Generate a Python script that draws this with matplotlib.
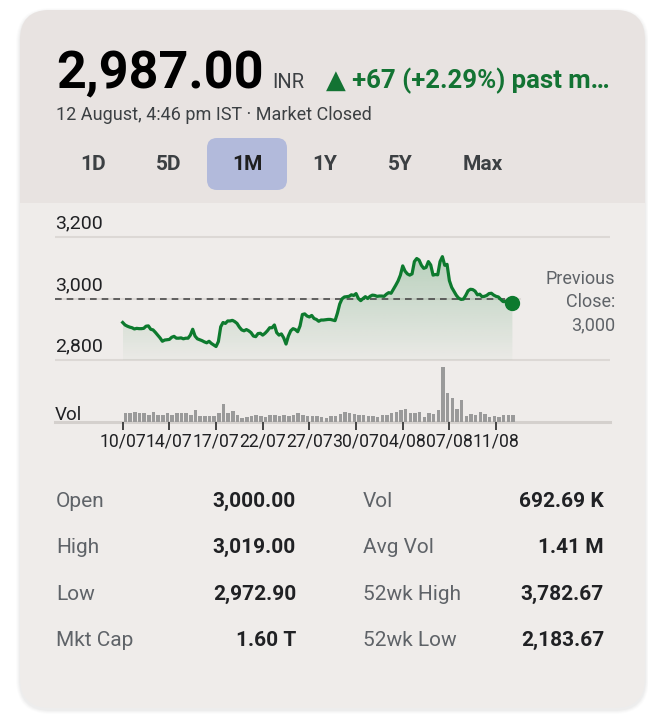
import numpy as np
import matplotlib.pyplot as plt
from matplotlib.patches import FancyBboxPatch, Rectangle
from matplotlib.colors import to_rgb

plt.rcParams['font.family'] = ['Roboto', 'DejaVu Sans']

# ---- data ----
price = [2922, 2914, 2910, 2907, 2905, 2901, 2903, 2902, 2902, 2903,
         2910, 2911, 2900, 2898, 2890, 2881, 2872, 2861, 2865, 2866,
         2867, 2874, 2877, 2871, 2871, 2872, 2869, 2871, 2871, 2881,
         2900, 2878, 2869, 2866, 2863, 2859, 2856, 2861, 2854, 2849,
         2844, 2860, 2908, 2922,
         2919, 2927, 2927, 2929, 2925, 2919, 2907, 2898, 2895, 2899,
         2895, 2889, 2878, 2876, 2886, 2887, 2881, 2887, 2895, 2905,
         2905, 2914, 2889, 2881, 2885, 2872, 2852, 2878, 2895, 2902,
         2899, 2892, 2911, 2948, 2950, 2943, 2940, 2945, 2935, 2932,
         2926, 2930, 2930,
         2931, 2932, 2932, 2930, 2928, 2952,
         2982, 2999, 3005, 3006, 3007, 3012, 3010, 3016, 3000, 2993,
         3000, 3006, 3000, 3007, 3011, 3010, 3007, 3008, 3008, 3007,
         3014, 3019, 3017, 3030, 3043, 3057, 3076, 3106, 3089, 3080,
         3076, 3080, 3120,
         3130, 3125, 3108, 3098, 3101, 3120, 3109, 3076, 3078, 3077,
         3120, 3136, 3108, 3111, 3058, 3036, 3023, 3010, 3001, 2997,
         2998, 3010, 3025, 3030, 3029, 3024, 3012, 3014, 3006, 3007,
         3010, 3016, 3017, 3011, 3007, 3005, 2997, 2990, 2990, 2995,
         2990, 2987]

volume = [25, 25, 28, 25, 25, 20, 27, 18, 18, 25,
          18, 24, 24, 26, 18, 35, 16, 16, 17, 16,
          24, 52, 25, 32, 18, 11, 14, 17, 20, 17,
          13, 19, 19, 16, 19, 17, 19, 24, 19, 15,
          16, 16, 14, 11, 16, 16, 23, 28, 26, 22,
          20, 20, 17, 16, 14, 18, 19, 25, 28, 34,
          38, 25, 24, 28, 14, 25, 23, 33, 164, 85,
          70, 38, 64, 17, 22, 20, 29, 22, 14, 16,
          12, 19, 18, 18]

date_labels = ['10/07', '14/07', '17/07', '22/07', '27/07',
               '30/07', '04/08', '07/08', '11/08']
price_ticks = [2800, 3000, 3200]
prev_close = 3000

last_price = '2,987.00'
currency = 'INR'
change_text = '\u25B2 +67 (+2.29%) past m\u2026'
timestamp = '12 August, 4:46 pm IST \u00B7 Market Closed'
tabs = ['1D', '5D', '1M', '1Y', '5Y', 'Max']
active_tab = '1M'

stat_names_l = ['Open', 'High', 'Low', 'Mkt Cap']
stat_vals_l = ['3,000.00', '3,019.00', '2,972.90', '1.60 T']
stat_names_r = ['Vol', 'Avg Vol', '52wk High', '52wk Low']
stat_vals_r = ['692.69 K', '1.41 M', '3,782.67', '2,183.67']

# ---- colours ----
green = '#0d7a2e'
green_txt = '#137333'
card_bg = '#efecea'
head_bg = '#e8e3e1'
grid_c = '#dcd8d5'
dark = '#202124'
grey = '#5f6368'

W, H = 648, 725
fig = plt.figure(figsize=(W / 100, H / 100), dpi=100)
fig.patch.set_facecolor('white')

bg = fig.add_axes([0, 0, 1, 1])
bg.set_xlim(0, W)
bg.set_ylim(H, 0)
bg.axis('off')

# card with soft shadow
for i, a in enumerate([0.025, 0.02, 0.015, 0.01]):
    d = i + 1
    bg.add_patch(FancyBboxPatch((20 - d, 10 - d + 2), 625 + 2 * d, 698 + 2 * d,
                                boxstyle='round,pad=0,rounding_size=%d' % (30 + d),
                                fc='black', ec='none', alpha=a))
card = FancyBboxPatch((20, 10), 625, 698, boxstyle='round,pad=0,rounding_size=30',
                      fc=card_bg, ec='none')
bg.add_patch(card)
head = Rectangle((20, 10), 625, 193, fc=head_bg, ec='none')
bg.add_patch(head)
head.set_clip_path(card)

# header texts
bg.text(56, 88, last_price, fontsize=37.5, fontweight='bold', color='black', va='baseline')
bg.text(272, 88, currency, fontsize=14.5, color='#3c4043', va='baseline')
bg.text(326, 88, change_text, fontsize=18.5, fontweight='bold', color=green_txt, va='baseline')
bg.text(56, 120, timestamp, fontsize=13, color='#3c4043', va='baseline')

tab_x = [93, 169, 247, 325, 400, 483]
for t, x in zip(tabs, tab_x):
    if t == active_tab:
        bg.add_patch(FancyBboxPatch((x - 40, 138), 80, 52,
                                    boxstyle='round,pad=0,rounding_size=10',
                                    fc='#b2badb', ec='none'))
    bg.text(x, 164, t, fontsize=15, fontweight='bold', ha='center', va='center',
            color='#1f1f1f' if t == active_tab else '#3c4043')

# ---- price chart ----
x0px, step = 122.7, 4.667          # px of first sample, px per volume bar
left_px, right_px = 55, 610
xlim = ((left_px - x0px) / step, (right_px - x0px) / step)
ppx = 3.25                          # price units per pixel
ylim = (prev_close - (362 - 298.5) * ppx, prev_close + (298.5 - 230) * ppx)
dash_end = (520 - left_px) / (right_px - left_px)

ax = fig.add_axes([left_px / W, 1 - 362 / H, (right_px - left_px) / W, 132 / H])
ax.patch.set_alpha(0)
xs = np.arange(len(price)) / 2.0
p = np.array(price)

for t in price_ticks:
    ax.axhline(t, color=grid_c, lw=1.5, zorder=0,
               xmax=dash_end if t == prev_close else 1)
    ax.annotate(f'{t:,}', xy=(0, t), xycoords=('axes fraction', 'data'),
                xytext=(0, 6), textcoords='offset points', ha='left', va='baseline',
                fontsize=14, color=dark)

ax.axhline(prev_close, xmin=0, xmax=dash_end,
           color='#4a4a4a', lw=1.2, ls=(0, (4, 3)), zorder=2)

# gradient fill under the line
poly = ax.fill_between(xs, p, price_ticks[0], color='none', lw=0)
grad = np.zeros((256, 1, 4))
grad[:, 0, :3] = to_rgb(green)
grad[:, 0, 3] = np.linspace(0.02, 0.24, 256)
im = ax.imshow(grad, extent=[xs[0], xs[-1], price_ticks[0], p.max()],
               origin='lower', aspect='auto', zorder=1, interpolation='bilinear')
im.set_clip_path(poly.get_paths()[0], transform=ax.transData)

ax.plot(xs, p, color=green, lw=2.3, solid_joinstyle='round', zorder=3)
ax.plot(xs[-1], p[-1], 'o', ms=10, color=green, zorder=4)
ax.set_xlim(*xlim)
ax.set_ylim(*ylim)
ax.axis('off')

bg.text(615, 302, f'Previous\nClose:\n{prev_close:,}', ha='right', va='center',
        fontsize=13, color=grey, linespacing=1.35)

# ---- volume ----
vpx = 164 / 54.7
axv = fig.add_axes([left_px / W, 1 - 421.5 / H, (right_px - left_px) / W, 61.5 / H])
axv.patch.set_alpha(0)
axv.bar(np.arange(len(volume)) + 0.6, volume, width=0.72, color='#9a9a9a', zorder=2)
axv.axhline(0, color='#d4d0cd', lw=2.2, clip_on=False, zorder=1)
axv.set_xlim(*xlim)
axv.set_ylim(0, 61.5 * vpx)
axv.set_xticks(np.arange(0, 10 * len(date_labels), 10), labels=date_labels)
axv.tick_params(axis='x', length=6, width=1.4, color='#444', pad=2,
                labelsize=12.7, labelcolor=dark)
axv.set_yticks([])
for s in axv.spines.values():
    s.set_visible(False)
axv.text(0, 4, 'Vol', transform=axv.get_yaxis_transform(), fontsize=13.5,
         color=dark, va='baseline', ha='left')

# ---- stats table ----
row_y = [507, 553, 600, 646]
for y, n1, v1, n2, v2 in zip(row_y, stat_names_l, stat_vals_l, stat_names_r, stat_vals_r):
    bg.text(56, y, n1, fontsize=15, color=grey, va='baseline')
    bg.text(296, y, v1, fontsize=15, fontweight='bold', color=dark, ha='right', va='baseline')
    bg.text(363, y, n2, fontsize=15, color=grey, va='baseline')
    bg.text(604, y, v2, fontsize=15, fontweight='bold', color=dark, ha='right', va='baseline')

fig.savefig('out.png', dpi=100, facecolor='white')
